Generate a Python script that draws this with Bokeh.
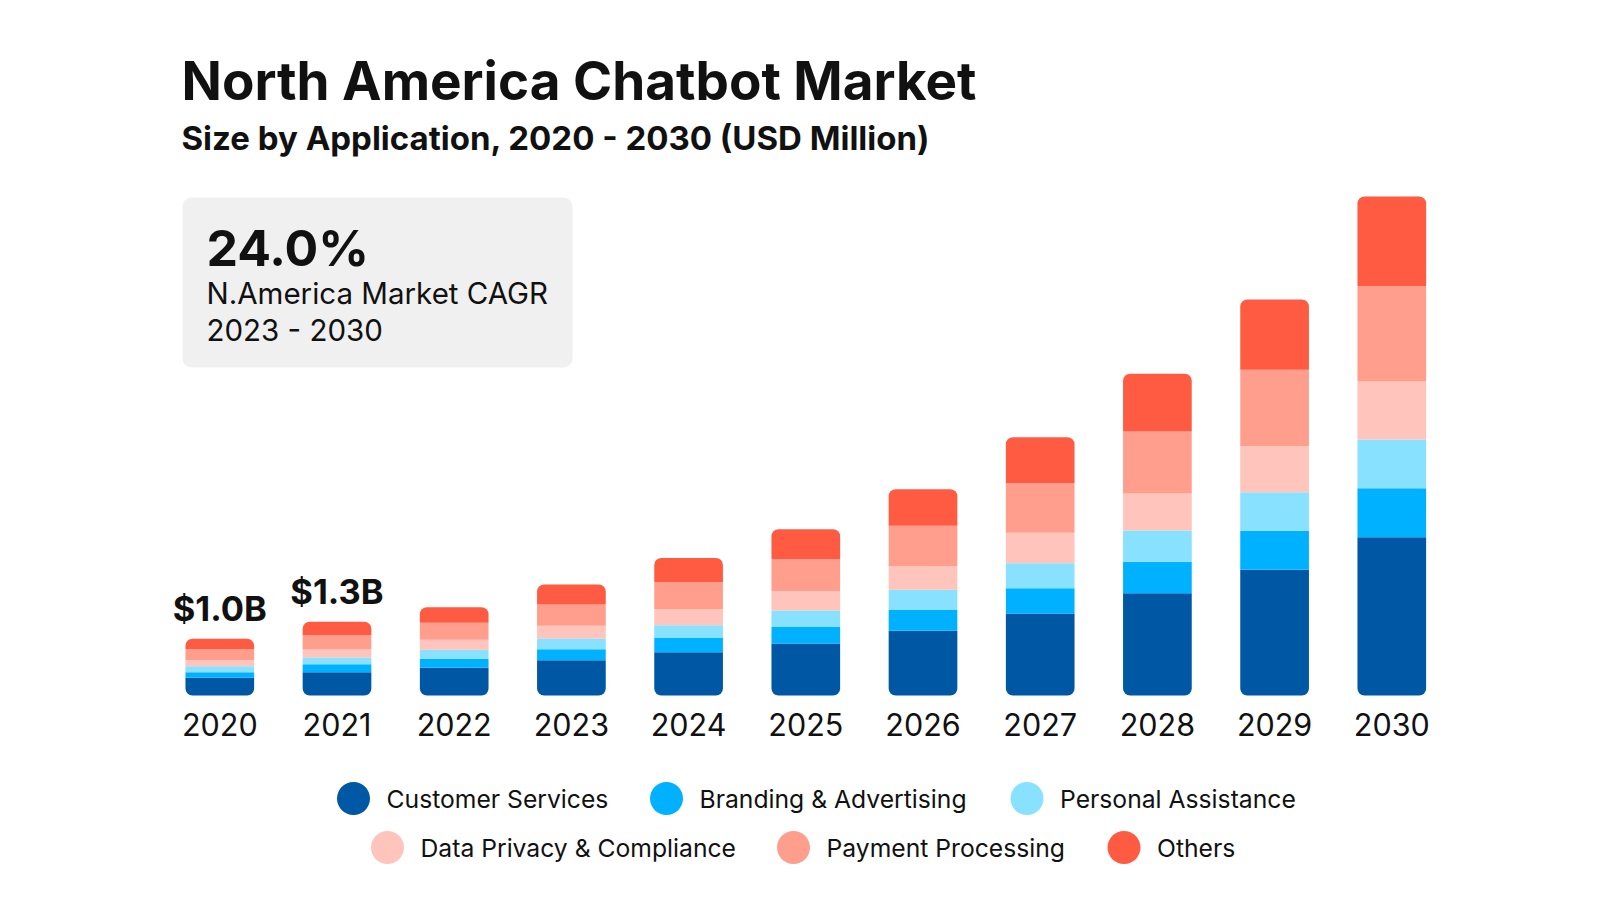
import numpy as np
from bokeh.plotting import figure
from bokeh.models import Range1d, Label, BoxAnnotation
from bokeh.core.properties import value
from bokeh.embed import file_html
from bokeh.resources import INLINE

# ---- data (USD million) ----
years = ["2020", "2021", "2022", "2023", "2024", "2025", "2026", "2027", "2028", "2029", "2030"]
customer_services = [312, 412, 489, 623, 764, 917, 1140, 1446, 1805, 2217, 2792]
branding_advertising = [99, 137, 159, 194, 252, 293, 370, 446, 554, 688, 864]
personal_assistance = [106, 120, 159, 189, 224, 289, 353, 441, 552, 681, 859]
data_privacy_compliance = [106, 149, 176, 222, 282, 340, 423, 536, 653, 811, 1023]
payment_processing = [194, 250, 300, 378, 476, 570, 706, 875, 1094, 1348, 1681]
others = [183, 232, 275, 353, 429, 524, 647, 811, 1018, 1240, 1582]

series_names = ["Customer Services", "Branding & Advertising", "Personal Assistance",
                "Data Privacy & Compliance", "Payment Processing", "Others"]
series_values = [customer_services, branding_advertising, personal_assistance,
                 data_privacy_compliance, payment_processing, others]
series_colors = ["#0057A3", "#00B1FF", "#87E1FF", "#FFC4BC", "#FF9E8D", "#FF5B42"]

labeled_years = 2  # first bars carry a total label

# ---- page geometry ----
W, H = 1600, 922
FONT_NAME = "Inter"
FONT = value(FONT_NAME)
TXT = "#111111"

x_step = 117.2          # px between bar centres
x_first = 219.3         # px of the first bar centre
y_base = 695.0          # px of the bar baseline
y_px_per_unit = 0.0567  # px per USD million

x_range = Range1d(-x_first / x_step, (W - x_first) / x_step)
y_range = Range1d(-(H - y_base) / y_px_per_unit, y_base / y_px_per_unit)


def px_to_x(px):
    return (px - x_first) / x_step


def px_to_y(py):
    return (y_base - py) / y_px_per_unit


p = figure(width=W, height=H, x_range=x_range, y_range=y_range,
           x_axis_location=None, y_axis_location=None,
           toolbar_location=None, output_backend="svg",
           min_border=0, outline_line_color=None,
           background_fill_color="white", border_fill_color="white")
p.grid.visible = False

idx = np.arange(len(years))

# ---- stacked bars ----
stack = np.array(series_values, dtype=float)
tops = np.cumsum(stack, axis=0)
bottoms = tops - stack
n_series = len(series_names)
bar_w = 0.586
for k in range(n_series):
    if k == 0:
        radius = (0, 0, 7, 7)
    elif k == n_series - 1:
        radius = (7, 7, 0, 0)
    else:
        radius = 0
    p.vbar(x=idx, width=bar_w, bottom=bottoms[k], top=tops[k],
           fill_color=series_colors[k], line_color=None, border_radius=radius)

totals = tops[-1]

# year labels under each bar
p.text(x=idx, y=np.zeros(len(years)), text=years, y_offset=29,
       text_align="center", text_baseline="middle",
       text_font=FONT, text_font_size="30.5px", text_color=TXT)

# total labels
p.text(x=idx[:labeled_years], y=totals[:labeled_years],
       text=[f"${t / 1000:.1f}B" for t in totals[:labeled_years]],
       y_offset=-30, text_align="center", text_baseline="middle",
       text_font=FONT, text_font_size="34.5px", text_font_style="bold", text_color=TXT)


def screen_label(x, baseline_px, text, size, bold=False):
    # Label is anchored at its box bottom; drop by the font descent so the
    # glyph baseline lands on baseline_px
    return Label(x=x, y=H - baseline_px - 0.24 * size, x_units="screen", y_units="screen",
                 text=text, text_font=FONT_NAME, text_font_size=f"{size}px",
                 text_font_style="bold" if bold else "normal", text_color=TXT)


# ---- title block ----
p.add_layout(screen_label(181, 100, "North America Chatbot Market", 53, bold=True))
p.add_layout(screen_label(181, 150, "Size by Application, 2020 - 2030 (USD Million)", 33, bold=True))

# ---- CAGR card ----
p.add_layout(BoxAnnotation(left=182, right=572, top=H - 197, bottom=H - 367,
                           left_units="screen", right_units="screen",
                           top_units="screen", bottom_units="screen",
                           fill_color="#F0F0F0", fill_alpha=1.0, line_color=None,
                           border_radius=9, level="underlay"))
p.add_layout(screen_label(206, 265, "24.0%", 50, bold=True))
p.add_layout(screen_label(206, 303, "N.America Market CAGR", 29.5))
p.add_layout(screen_label(206, 340, "2023 - 2030", 29.5))

# ---- legend (two centred rows of dots + labels) ----
legend_rows = [(798, [353, 666, 1026.5]), (847, [387, 793, 1123.5])]
k = 0
for row_y, centres in legend_rows:
    for cx in centres:
        p.scatter(x=[px_to_x(cx)], y=[px_to_y(row_y)], marker="circle", size=33,
                  fill_color=series_colors[k], line_color=None)
        p.text(x=[px_to_x(cx + 33)], y=[px_to_y(row_y)], text=[series_names[k]],
               text_align="left", text_baseline="middle", text_font=FONT,
               text_font_size="24.7px", text_color=TXT)
        k += 1

open("out.html", "w").write(file_html(p, INLINE))
